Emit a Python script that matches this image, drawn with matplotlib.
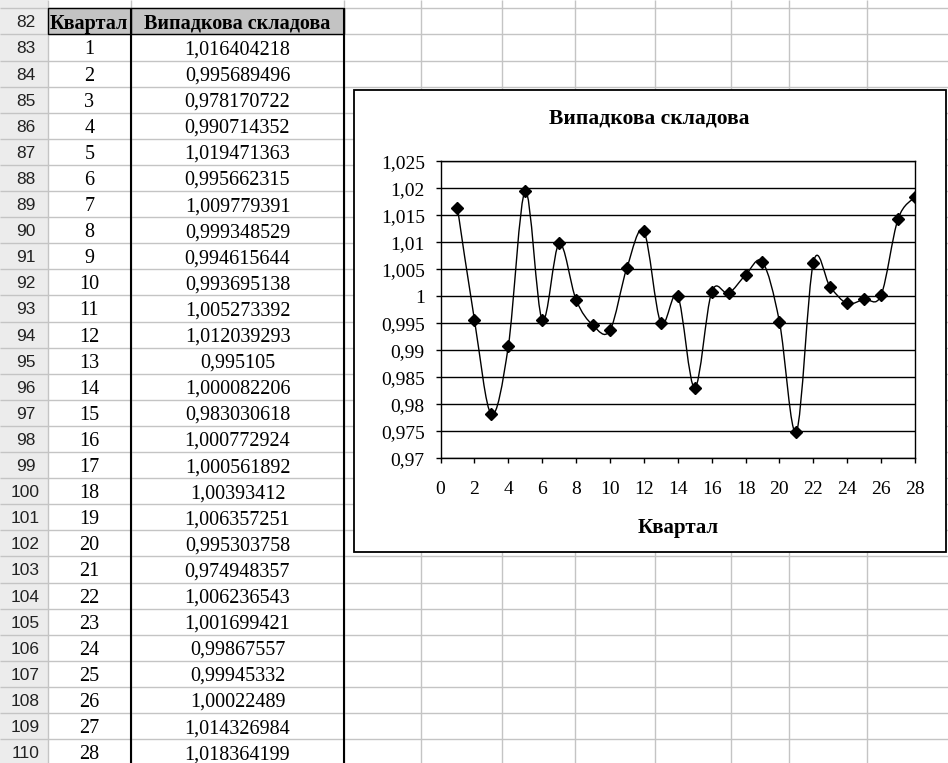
import numpy as np
import matplotlib
matplotlib.use("Agg")
import matplotlib.pyplot as plt
from matplotlib.patches import Rectangle, PathPatch
from matplotlib.path import Path
from matplotlib.ticker import MultipleLocator, FuncFormatter

# worksheet data: quarter number and random component
quarters = list(range(1, 29))
random_part = [1.016404218, 0.995689496, 0.978170722, 0.990714352, 1.019471363,
               0.995662315, 1.009779391, 0.999348529, 0.994615644, 0.993695138,
               1.005273392, 1.012039293, 0.995105, 1.000082206, 0.983030618,
               1.000772924, 1.000561892, 1.00393412, 1.006357251, 0.995303758,
               0.974948357, 1.006236543, 1.001699421, 0.99867557, 0.99945332,
               1.00022489, 1.014326984, 1.018364199]
first_row = 82
col_headers = ["Квартал", "Випадкова складова"]
chart_title = "Випадкова складова"

serif = "Liberation Serif"
sans = "Liberation Sans"

W, H = 948, 763
fig = plt.figure(figsize=(W / 100, H / 100), dpi=100)

# --- sheet background, pixel coordinates ---
bg = fig.add_axes([0, 0, 1, 1])
bg.set_xlim(0, W)
bg.set_ylim(H, 0)
bg.axis("off")

row_top = 8.3
row_h = 26.1
n_rows = len(quarters) + 1
grid_x = [47.7, 131, 344, 421, 502, 575, 655, 731, 789, 867]
row_y = [row_top + row_h * k for k in range(n_rows + 1)]

# row header column
bg.add_patch(Rectangle((0, 0), 47.7, H, fc="#ececec", ec="none", zorder=0))
bg.hlines(row_y, 0, W, color="#c4c4c4", lw=1.0, zorder=1)
bg.vlines(grid_x, 0, H, color="#c4c4c4", lw=1.0, zorder=1)

# header cells
bg.add_patch(Rectangle((47.7, row_y[0]), 131 - 47.7, row_h, fc="#c3c3c3",
                       ec="black", lw=1.0, zorder=2))
bg.add_patch(Rectangle((131, row_y[0]), 344 - 131, row_h, fc="#c3c3c3",
                       ec="black", lw=1.0, zorder=2))
bg.vlines([131, 344], row_y[0], H, color="black", lw=1.5, zorder=2)

c_num = 25.5
c_q = (47.7 + 131) / 2
c_v = (131 + 344) / 2
yc = row_y[0] + row_h / 2
bg.text(c_num, yc, str(first_row), family=sans, fontsize=12.5, color="#222222",
        ha="center", va="center_baseline", zorder=3)
bg.text(c_q, yc, col_headers[0], family=serif, fontsize=14.5, weight="bold",
        ha="center", va="center_baseline", zorder=3)
bg.text(c_v, yc, col_headers[1], family=serif, fontsize=14.5, weight="bold",
        ha="center", va="center_baseline", zorder=3)

for i, (q, v) in enumerate(zip(quarters, random_part)):
    yc = row_y[i + 1] + row_h / 2
    bg.text(c_num, yc, str(first_row + i + 1), family=sans, fontsize=12.5,
            color="#222222", ha="center", va="center_baseline", zorder=3)
    bg.text(c_q, yc, str(q), family=serif, fontsize=14.5,
            ha="center", va="center_baseline", zorder=3)
    bg.text(c_v, yc, str(v).replace(".", ","), family=serif, fontsize=14.5,
            ha="center", va="center_baseline", zorder=3)

# chart area frame
bg.add_patch(Rectangle((354.3, 90), 945.7 - 354.3, 551.7 - 90, fc="white",
                       ec="black", lw=1.3, zorder=4))

# --- chart plot area ---
px0, px1, py0, py1 = 440.5, 915, 161.3, 458.3
ax = fig.add_axes([px0 / W, 1 - py1 / H, (px1 - px0) / W, (py1 - py0) / H])
ax.set_xlim(0, 28)
ax.set_ylim(0.97, 1.025)


def smooth_path(x, y):
    # Bezier segments with Catmull-Rom style handles (smoothed line)
    pts = np.column_stack([x, y]).astype(float)
    ext = np.vstack([pts[0], pts, pts[-1]])
    verts = [pts[0]]
    codes = [Path.MOVETO]
    for i in range(len(pts) - 1):
        p0, p1, p2, p3 = ext[i], ext[i + 1], ext[i + 2], ext[i + 3]
        verts += [p1 + (p2 - p0) / 6, p2 - (p3 - p1) / 6, p2]
        codes += [Path.CURVE4] * 3
    return Path(verts, codes)


ax.add_patch(PathPatch(smooth_path(quarters, random_part), fill=False,
                       ec="black", lw=1.0, zorder=3))
ax.plot(quarters, random_part, ls="none", marker="D", ms=6.5, color="black",
        zorder=4)

ax.xaxis.set_major_locator(MultipleLocator(2))
ax.yaxis.set_major_locator(MultipleLocator(0.005))
ax.yaxis.set_major_formatter(FuncFormatter(
    lambda v, pos: f"{v:.3f}".rstrip("0").rstrip(".").replace(".", ",")))
ax.grid(axis="y", color="black", lw=1.0)
ax.set_axisbelow(True)
for s in ax.spines.values():
    s.set_color("black")
    s.set_linewidth(1.0)
ax.tick_params(axis="both", direction="out", length=3.8, width=1.0,
               colors="black", labelsize=14)
ax.tick_params(axis="x", pad=12.5)
ax.tick_params(axis="y", pad=7.5)
for lab in ax.get_xticklabels() + ax.get_yticklabels():
    lab.set_family(serif)

ax.set_title(chart_title, x=0.44, y=(py1 - 127) / (py1 - py0), va="center",
             family=serif, fontsize=15.5, weight="bold")
ax.set_xlabel("Квартал", family=serif, fontsize=15, weight="bold", va="center")
ax.xaxis.set_label_coords(0.5, (py1 - 528) / (py1 - py0))

fig.savefig("out.png", dpi=100)
